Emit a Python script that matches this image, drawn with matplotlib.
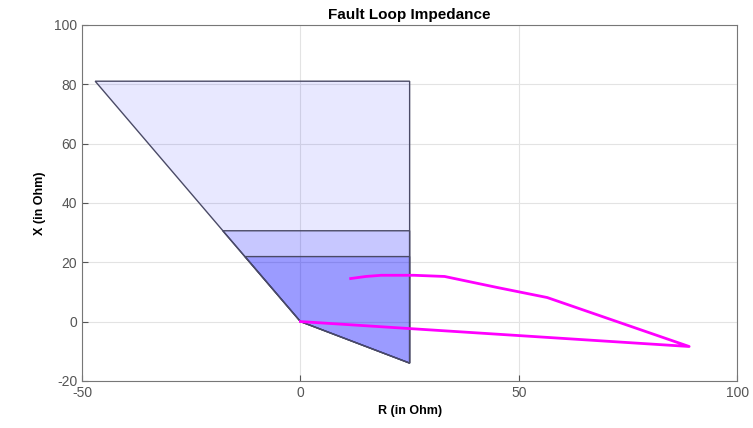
import numpy as np
import matplotlib.pyplot as plt

# zone polygons (R, X in Ohm)
zone3_r = [0, -47, 25, 25, 0]
zone3_x = [0, 81, 81, -14, 0]
zone2_r = [0, -17.8, 25, 25, 0]
zone2_x = [0, 30.6, 30.6, -14, 0]
zone1_r = [0, -12.7, 25, 25, 0]
zone1_x = [0, 21.9, 21.9, -14, 0]

# impedance trajectory
traj_r = [11.5, 15, 18.5, 26, 33, 45, 56.5, 89, 0]
traj_x = [14.5, 15.2, 15.6, 15.6, 15.2, 11.5, 8.1, -8.4, 0]

plt.rcParams['font.family'] = ['Liberation Sans', 'DejaVu Sans']
plt.rcParams['axes.unicode_minus'] = False

fig = plt.figure(figsize=(7.53, 4.28), dpi=100)
ax = fig.add_axes([0.109, 0.110, 0.870, 0.832])

edge = '#4a4a66'
for r, x, a in [(zone3_r, zone3_x, 0.09), (zone2_r, zone2_x, 0.14), (zone1_r, zone1_x, 0.22)]:
    ax.fill(r, x, facecolor=(0, 0, 1, a), edgecolor=edge, linewidth=1.0, zorder=2)

ax.plot(traj_r, traj_x, color='#ff00ff', linewidth=2.0, zorder=3)

ax.set_xlim(-50, 100)
ax.set_ylim(-20, 100)
ax.set_xticks([-50, 0, 50, 100])
ax.set_yticks(np.arange(-20, 101, 20))
ax.grid(True, color='#e3e3e3', linewidth=0.8, zorder=0)
ax.set_axisbelow(True)
ax.tick_params(direction='in', length=4, colors='#555555', labelsize=10)
for s in ax.spines.values():
    s.set_color('#777777')
    s.set_linewidth(0.8)

ax.set_title('Fault Loop Impedance', fontsize=11, fontweight='bold', pad=4)
ax.set_xlabel('R (in Ohm)', fontsize=9, fontweight='bold', labelpad=4)
ax.set_ylabel('X (in Ohm)', fontsize=9, fontweight='bold', labelpad=6)

fig.savefig('out.png', dpi=100)
